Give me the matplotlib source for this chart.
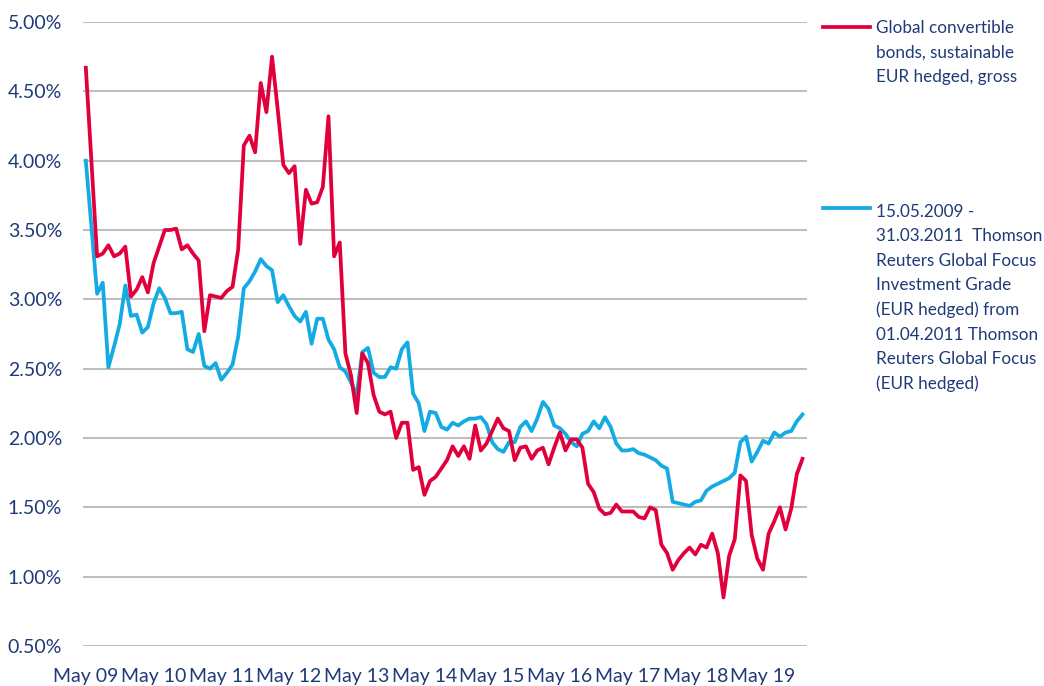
import matplotlib
matplotlib.use("Agg")
import matplotlib.pyplot as plt
from matplotlib.lines import Line2D
import numpy as np

plt.rcParams['font.family'] = ['Lato', 'DejaVu Sans']

# Monthly yields, May 2009 - Dec 2019 (percent)
convertible = [
    4.67, 3.99, 3.31, 3.33, 3.39, 3.31, 3.33, 3.38, 3.02, 3.07,
    3.16, 3.05, 3.26, 3.38, 3.50, 3.50, 3.51, 3.36, 3.39, 3.33,
    3.28, 2.77, 3.03, 3.02, 3.01, 3.06, 3.09, 3.36, 4.11, 4.18,
    4.06, 4.56, 4.35, 4.75, 4.37, 3.97, 3.91, 3.96, 3.40, 3.79,
    3.69, 3.70, 3.81, 4.32, 3.31, 3.41, 2.61, 2.45, 2.18, 2.61,
    2.54, 2.31, 2.19, 2.17, 2.19, 2.00, 2.11, 2.11, 1.77, 1.79,
    1.59, 1.69, 1.72, 1.78, 1.84, 1.94, 1.87, 1.94, 1.85, 2.09,
    1.91, 1.96, 2.05, 2.14, 2.07, 2.05, 1.84, 1.93, 1.94, 1.85,
    1.91, 1.93, 1.81, 1.93, 2.04, 1.91, 1.99, 1.99, 1.93, 1.67,
    1.61, 1.49, 1.45, 1.46, 1.52, 1.47, 1.47, 1.47, 1.43, 1.42,
    1.50, 1.48, 1.23, 1.17, 1.05, 1.12, 1.17, 1.21, 1.16, 1.23,
    1.21, 1.31, 1.17, 0.85, 1.15, 1.27, 1.73, 1.69, 1.30, 1.13,
    1.05, 1.31, 1.40, 1.50, 1.34, 1.49, 1.74, 1.85,
]

benchmark = [
    4.00, 3.52, 3.04, 3.12, 2.51, 2.66, 2.82, 3.10, 2.88, 2.89,
    2.76, 2.80, 2.97, 3.08, 3.01, 2.90, 2.90, 2.91, 2.64, 2.62,
    2.75, 2.52, 2.50, 2.54, 2.42, 2.47, 2.53, 2.73, 3.08, 3.13,
    3.20, 3.29, 3.24, 3.21, 2.98, 3.03, 2.95, 2.88, 2.84, 2.91,
    2.68, 2.86, 2.86, 2.71, 2.64, 2.51, 2.48, 2.40, 2.31, 2.62,
    2.65, 2.47, 2.44, 2.44, 2.51, 2.50, 2.64, 2.69, 2.32, 2.25,
    2.05, 2.19, 2.18, 2.08, 2.06, 2.11, 2.09, 2.12, 2.14, 2.14,
    2.15, 2.10, 1.97, 1.92, 1.90, 1.97, 1.97, 2.08, 2.12, 2.05,
    2.14, 2.26, 2.21, 2.09, 2.07, 2.03, 1.97, 1.94, 2.03, 2.05,
    2.12, 2.07, 2.15, 2.08, 1.96, 1.91, 1.91, 1.92, 1.89, 1.88,
    1.86, 1.84, 1.80, 1.78, 1.54, 1.53, 1.52, 1.51, 1.54, 1.55,
    1.62, 1.65, 1.67, 1.69, 1.71, 1.75, 1.97, 2.01, 1.83, 1.90,
    1.98, 1.96, 2.04, 2.01, 2.04, 2.05, 2.12, 2.17,
]

year_labels = ["May 09", "May 10", "May 11", "May 12", "May 13", "May 14",
               "May 15", "May 16", "May 17", "May 18", "May 19"]
y_ticks = [0.5, 1.0, 1.5, 2.0, 2.5, 3.0, 3.5, 4.0, 4.5, 5.0]

legend_conv = "Global convertible\nbonds, sustainable\nEUR hedged, gross"
legend_bench = ("15.05.2009 -\n31.03.2011  Thomson\nReuters Global Focus\n"
                "Investment Grade\n(EUR hedged) from\n01.04.2011 Thomson\n"
                "Reuters Global Focus\n(EUR hedged)")

RED = "#E2003C"
BLUE = "#12ABE3"
NAVY = "#1F3A78"
GRID = "#BEBEBE"

W, H = 1044, 686
fig = plt.figure(figsize=(W / 100, H / 100), dpi=100)
ax = fig.add_axes([83 / W, 1 - 646 / H, (807 - 83) / W, (646 - 22) / H])

x = np.arange(len(convertible))
ax.plot(x, convertible, color=RED, lw=2.7, solid_joinstyle="round", zorder=3)
ax.plot(np.arange(len(benchmark)), benchmark, color=BLUE, lw=2.7,
        solid_joinstyle="round", zorder=2)

ax.set_xlim(-0.5, 127.8)
ax.set_ylim(0.5, 5.0)
ax.set_yticks(y_ticks)
ax.set_yticklabels([f"{v:.2f}%" for v in y_ticks])
ax.set_xticks(np.arange(len(year_labels)) * 12)
ax.set_xticklabels(year_labels)
ax.grid(axis="y", color=GRID, lw=1.5)
ax.set_axisbelow(True)
for s in ax.spines.values():
    s.set_visible(False)
ax.tick_params(axis="both", length=0, colors=NAVY, labelsize=14)
ax.tick_params(axis="y", pad=15)
ax.tick_params(axis="x", pad=16)

# Legend drawn to the right of the plot
fig.add_artist(Line2D([823 / W, 870 / W], [1 - 27 / H, 1 - 27 / H],
                      color=RED, lw=2.7, transform=fig.transFigure))
fig.add_artist(Line2D([823 / W, 870 / W], [1 - 208 / H, 1 - 208 / H],
                      color=BLUE, lw=2.7, transform=fig.transFigure))
fig.text(876 / W, 1 - 20 / H, legend_conv, color=NAVY, fontsize=12.3,
         va="top", ha="left", linespacing=1.64)
fig.text(876 / W, 1 - 204 / H, legend_bench, color=NAVY, fontsize=12.3,
         va="top", ha="left", linespacing=1.64)

fig.savefig("out.png", dpi=100)
